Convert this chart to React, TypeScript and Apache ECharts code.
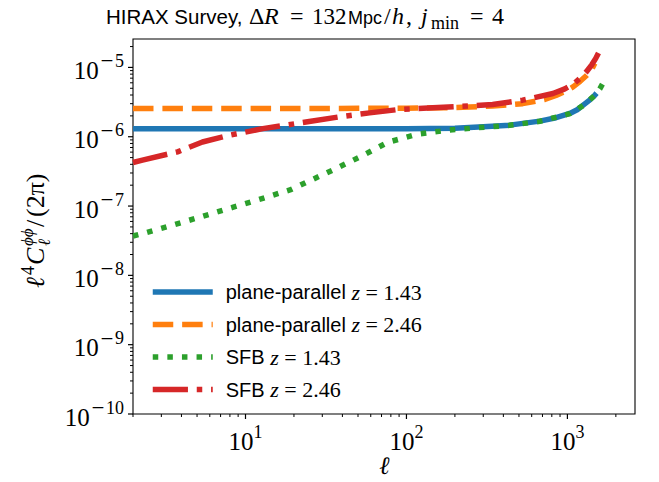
import React, { useEffect, useRef } from 'react';
import * as echarts from 'echarts';

// Multipoles and angular power spectra (ell^4 C_ell / 2pi) for each curve
const ppLowEll = [2, 10, 50, 100, 200, 300, 438, 674, 850, 1035, 1150, 1253, 1380, 1480, 1517];
const ppLowCl = [1.3e-6, 1.3e-6, 1.3e-6, 1.3e-6, 1.33e-6, 1.39e-6, 1.47e-6, 1.68e-6, 1.88e-6, 2.17e-6, 2.45e-6, 2.86e-6, 3.4e-6, 3.98e-6, 4.26e-6];

const ppHighEll = [2, 30, 100, 170, 247, 343, 527, 723, 850, 986, 1084, 1200, 1320, 1400, 1480];
const ppHighCl = [2.56e-6, 2.56e-6, 2.58e-6, 2.62e-6, 2.68e-6, 2.77e-6, 3.0e-6, 3.45e-6, 3.95e-6, 4.6e-6, 5.25e-6, 6.3e-6, 7.7e-6, 8.9e-6, 1.15e-5];

const sfbLowEll = [2, 2.29, 3.52, 5.4, 8.3, 12.8, 19.3, 23.9, 34.8, 52.6, 76.4, 117, 180, 277, 438, 674, 1035, 1253, 1480, 1590, 1668];
const sfbLowCl = [3.7e-8, 4.0e-8, 5.3e-8, 7.1e-8, 9.55e-8, 1.29e-7, 1.74e-7, 2.2e-7, 3.3e-7, 5.25e-7, 8.3e-7, 1.09e-6, 1.24e-6, 1.35e-6, 1.46e-6, 1.67e-6, 2.15e-6, 2.82e-6, 3.95e-6, 4.9e-6, 6.0e-6];

const sfbHighEll = [2, 2.29, 3.78, 5.4, 7.95, 12.8, 24.3, 38.5, 59, 90.8, 146, 247, 343, 527, 813, 964, 1084, 1200, 1320, 1420, 1500, 1560];
const sfbHighCl = [4.25e-7, 4.6e-7, 6.05e-7, 8.4e-7, 1.05e-6, 1.31e-6, 1.64e-6, 1.94e-6, 2.21e-6, 2.48e-6, 2.61e-6, 2.78e-6, 2.92e-6, 3.37e-6, 4.2e-6, 4.9e-6, 5.7e-6, 7.0e-6, 8.8e-6, 1.1e-5, 1.35e-5, 1.62e-5];

const seriesNames = ['pp143', 'pp246', 'sfb143', 'sfb246'];
const legendPrefix = ['plane-parallel ', 'plane-parallel ', 'SFB ', 'SFB '];
const legendRedshift = ['1.43', '2.46', '1.43', '2.46'];
const seriesColors = ['#1f77b4', '#ff7f0e', '#2ca02c', '#d62728'];

// Decade exponents labelled on each axis
const xMajorExp = [1, 2, 3];
const yMajorExp = [-10, -9, -8, -7, -6, -5];
const mantissas = [2, 3, 4, 5, 6, 7, 8, 9];

const X_MIN = Math.log10(2);
const X_MAX = 3.42;
const Y_MIN = -10;
const Y_MAX = -4.59;

const SERIF = '"Liberation Serif", "DejaVu Serif", serif';
const SANS = '"Liberation Sans", "DejaVu Sans", sans-serif';

function toLog(ell: number[], cl: number[]) {
  return ell.map((l, i) => [Math.log10(l), Math.log10(cl[i])]);
}

function minorTicks(lo: number, hi: number) {
  const out: number[] = [];
  for (let e = Math.floor(lo) - 1; e <= Math.ceil(hi); e++) {
    for (const m of mantissas) {
      const v = Math.log10(m) + e;
      if (v >= lo - 1e-9 && v <= hi + 1e-9) out.push(v);
    }
  }
  return out;
}

const MAJOR_LEN = 5;
const MINOR_LEN = 3;

// Tick marks as small rectangles hanging off the bottom and left spines
const xTickMarks = [
  ...xMajorExp.map((v) => ({ value: [v, Y_MIN], symbolSize: [1.2, MAJOR_LEN], symbolOffset: [0, MAJOR_LEN / 2] })),
  ...minorTicks(X_MIN, X_MAX).map((v) => ({ value: [v, Y_MIN], symbolSize: [1, MINOR_LEN], symbolOffset: [0, MINOR_LEN / 2] })),
];
const yTickMarks = [
  ...yMajorExp.map((v) => ({ value: [X_MIN, v], symbolSize: [MAJOR_LEN, 1.2], symbolOffset: [-MAJOR_LEN / 2, 0] })),
  ...minorTicks(Y_MIN, Y_MAX).map((v) => ({ value: [X_MIN, v], symbolSize: [MINOR_LEN, 1], symbolOffset: [-MINOR_LEN / 2, 0] })),
];

const supRich = {
  b: { fontFamily: SERIF, fontSize: 25, lineHeight: 31, verticalAlign: 'bottom', color: '#000' },
  m: { fontFamily: '"DejaVu Serif", serif', fontSize: 17, lineHeight: 18, verticalAlign: 'top', color: '#000', padding: [0, 1, 0, 1] },
  s: { fontFamily: SERIF, fontSize: 18, lineHeight: 18, verticalAlign: 'top', color: '#000' },
};

// Places one piece of text with its baseline at y
function piece(text: string, x: number, base: number, size: number, opts: { italic?: boolean; sans?: boolean } = {}) {
  return {
    type: 'text',
    x,
    y: base - 0.345 * size,
    style: {
      text,
      fontFamily: opts.sans ? SANS : SERIF,
      fontSize: size,
      fontStyle: opts.italic ? 'italic' : 'normal',
      fill: '#000',
      textAlign: 'left',
      textVerticalAlign: 'middle',
    },
  };
}

export default function App() {
  const ref = useRef<HTMLDivElement>(null);

  useEffect(() => {
    if (!ref.current) return;
    const chart = echarts.init(ref.current, undefined, { renderer: 'svg' });

    const lineDefs = [
      { data: toLog(ppLowEll, ppLowCl), dash: 'solid' as any },
      { data: toLog(ppHighEll, ppHighCl), dash: [20.5, 8.9] },
      { data: toLog(sfbLowEll, sfbLowCl), dash: [5.5, 9.1] },
      { data: toLog(sfbHighEll, sfbHighCl), dash: [35.2, 8.8, 5.5, 8.8] },
    ];

    const yLabelFont = 26;
    const tickSeries = (data: any[]) => ({
      type: 'scatter',
      data,
      symbol: 'rect',
      itemStyle: { color: '#000', opacity: 1 },
      clip: false,
      silent: true,
      z: 10,
    });

    chart.setOption({
      animation: false,
      backgroundColor: '#fff',
      grid: {
        left: 133,
        top: 39,
        width: 502,
        height: 375,
        show: true,
        borderColor: '#000',
        borderWidth: 1.1,
        backgroundColor: 'transparent',
        outerBoundsMode: 'none',
      },
      xAxis: {
        type: 'value',
        min: X_MIN,
        max: X_MAX,
        position: 'bottom',
        splitLine: { show: false },
        axisLine: { show: false },
        axisTick: { show: false },
        axisLabel: {
          customValues: xMajorExp,
          margin: 9,
          formatter: (v: number) => `{b|10}{s|${Math.round(v)}}`,
          rich: supRich,
        },
      },
      yAxis: {
        type: 'value',
        min: Y_MIN,
        max: Y_MAX,
        position: 'left',
        splitLine: { show: false },
        axisLine: { show: false },
        axisTick: { show: false },
        axisLabel: {
          customValues: yMajorExp,
          margin: 9,
          formatter: (v: number) => `{b|10}{m|−}{s|${Math.round(-v)}}`,
          rich: supRich,
        },
      },
      legend: {
        orient: 'vertical',
        left: 145,
        top: 276,
        itemWidth: 60,
        itemHeight: 14,
        itemGap: 10.5,
        data: seriesNames,
        itemStyle: { color: 'transparent', borderWidth: 0 },
        lineStyle: { width: 5.5 },
        textStyle: {
          lineHeight: 20,
          rich: {
            p: { fontFamily: SANS, fontSize: 20, padding: [0, 0, 0, 8], color: '#000' },
            z: { fontFamily: SERIF, fontSize: 22, fontStyle: 'italic', color: '#000' },
            n: { fontFamily: SERIF, fontSize: 22, color: '#000' },
          },
        },
        formatter: (name: string) => {
          const i = seriesNames.indexOf(name);
          return `{p|${legendPrefix[i]}}{z|z}{n| = ${legendRedshift[i]}}`;
        },
      },
      graphic: [
        // title: HIRAX Survey, ΔR = 132 Mpc/h, j_min = 4
        {
          type: 'group',
          x: 0,
          y: 0,
          children: [
            piece('HIRAX Survey,', 106, 24, 20.5, { sans: true }),
            piece('Δ', 249, 24, 24),
            piece('R', 264, 24, 24, { italic: true }),
            piece('=', 290, 24, 24),
            piece('132', 312, 24, 23),
            piece('Mpc', 348, 24, 18, { sans: true }),
            piece('/', 384, 24, 24),
            piece('h', 392, 24, 24, { italic: true }),
            piece(',', 406, 24, 24),
            piece('j', 421, 24, 24, { italic: true }),
            piece('min', 431, 29, 18),
            piece('=', 470, 24, 24),
            piece('4', 492, 24, 24),
          ],
        },
        // x-axis title
        piece('ℓ', 379, 474, 25, { italic: true }),
        // y-axis title: ℓ^4 C_ℓ^{ϕϕ} / (2π), read bottom to top
        {
          type: 'group',
          x: 44,
          y: 288,
          rotation: Math.PI / 2,
          children: [
            piece('ℓ', 0, 0, yLabelFont, { italic: true }),
            piece('4', 13, -10, 18),
            piece('C', 23, 0, yLabelFont, { italic: true }),
            piece('ϕϕ', 42, -11, 17, { italic: true }),
            piece('ℓ', 42, 6, 17, { italic: true }),
            piece('/', 61, 0, yLabelFont),
            piece('(2π)', 71, 0, yLabelFont),
          ],
        },
      ],
      series: [
        ...lineDefs.map((d, i) => ({
          name: seriesNames[i],
          type: 'line',
          data: d.data,
          showSymbol: false,
          symbol: 'none',
          clip: true,
          color: seriesColors[i],
          lineStyle: { color: seriesColors[i], width: 5.5, type: d.dash, cap: 'butt', join: 'round' },
          z: 2 + i,
        })),
        tickSeries(xTickMarks),
        tickSeries(yTickMarks),
      ],
    });

    return () => chart.dispose();
  }, []);

  return (
    <div
      ref={ref}
      style={{ position: 'absolute', left: 0, top: 0, width: 659, height: 482, background: '#fff' }}
    />
  );
}
